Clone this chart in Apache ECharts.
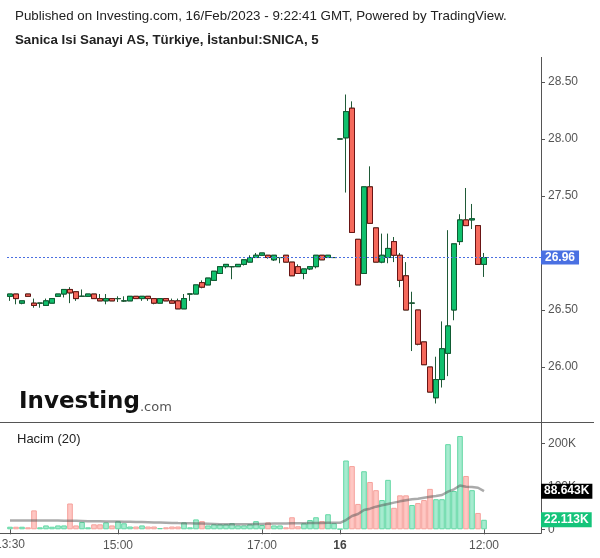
<!DOCTYPE html>
<html><head><meta charset="utf-8">
<script src="https://cdn.jsdelivr.net/npm/echarts@6/dist/echarts.min.js"></script>
<style>html,body{margin:0;padding:0;background:#fff}#c{width:600px;height:558px}</style>
</head><body><div id="c"></div>
<script>
// ---- time slots (5-minute bars) ----
function slots(day, start, end) {
  const out = [];
  let [h, m] = start.split(':').map(Number);
  const [eh, em] = end.split(':').map(Number);
  while (h * 60 + m <= eh * 60 + em) {
    out.push(day + ' ' + (h < 10 ? '0' : '') + h + ':' + (m < 10 ? '0' : '') + m);
    m += 5; if (m >= 60) { m -= 60; h++; }
  }
  return out;
}
const categories = slots('15', '13:30', '18:00').concat(slots('16', '10:00', '12:45'));
const tickLabels = { '15 13:30': '13:30', '15 15:00': '15:00', '15 17:00': '17:00', '16 10:00': '16', '16 12:00': '12:00' };
const edgeTick = '15 13:30'; // drawn separately so it can be clipped by the page edge

// ---- price data ----
const opens = [26.62,26.64,26.56,26.64,26.56,26.56,26.54,26.56,26.62,26.64,
  26.68,26.66,26.62,26.62,26.64,26.60,26.58,26.60,26.60,26.58,
  26.58,26.62,26.60,26.62,26.60,26.56,26.60,26.58,26.58,26.51,
  26.64,26.64,26.74,26.72,26.76,26.82,26.88,26.88,26.88,26.90,
  26.92,26.96,26.98,26.98,26.94,26.96,26.98,26.92,26.88,26.82,
  26.86,26.88,26.98,26.96,26.96,
  28.00,28.01,28.27,27.12,26.82,27.58,27.22,26.92,26.96,27.10,
  26.98,26.80,26.56,26.50,26.22,26.00,25.73,25.89,26.12,26.50,
  27.10,27.29,27.29,27.24,26.90];
const closes = [26.64,26.60,26.58,26.62,26.54,26.56,26.58,26.60,26.64,26.68,
  26.65,26.60,26.62,26.64,26.60,26.58,26.60,26.58,26.60,26.58,
  26.62,26.60,26.62,26.60,26.56,26.60,26.58,26.56,26.51,26.60,
  26.64,26.72,26.70,26.78,26.84,26.88,26.90,26.88,26.90,26.94,
  26.96,26.98,27.00,26.96,26.98,26.96,26.92,26.80,26.82,26.86,
  26.88,26.98,26.94,26.98,26.96,
  28.00,28.24,27.18,26.72,27.58,27.26,26.92,26.98,27.04,26.98,
  26.76,26.50,26.56,26.20,26.02,25.78,25.89,26.16,26.36,27.08,
  27.29,27.24,27.30,26.90,26.96];
const lows = [26.58,26.55,26.55,26.62,26.52,26.52,26.54,26.56,26.62,26.61,
  26.56,26.58,26.62,26.62,26.60,26.58,26.55,26.58,26.57,26.57,
  26.58,26.60,26.58,26.58,26.55,26.56,26.58,26.56,26.51,26.51,
  26.58,26.64,26.69,26.72,26.76,26.82,26.865,26.77,26.88,26.89,
  26.92,26.96,26.98,26.95,26.93,26.91,26.92,26.80,26.82,26.77,
  26.85,26.865,26.94,26.96,26.96,
  28.00,27.53,27.18,26.72,26.82,27.26,26.92,26.91,26.91,26.92,
  26.70,26.50,26.14,26.19,26.02,25.78,25.68,25.82,25.92,26.41,
  27.07,27.24,27.21,26.90,26.79];
const highs = [26.64,26.64,26.58,26.64,26.60,26.56,26.60,26.60,26.64,26.68,
  26.70,26.66,26.68,26.64,26.64,26.64,26.64,26.60,26.62,26.62,
  26.62,26.62,26.62,26.62,26.60,26.60,26.60,26.60,26.60,26.64,
  26.64,26.72,26.76,26.78,26.84,26.88,26.90,26.88,26.90,26.94,
  26.98,27.00,27.00,26.98,26.98,26.96,26.98,26.92,26.90,26.86,
  26.88,26.98,26.98,26.98,26.96,
  28.00,28.39,28.33,27.12,27.58,27.76,27.22,27.17,27.17,27.14,
  27.00,26.92,26.66,26.50,26.22,26.00,26.09,26.40,27.20,27.08,
  27.34,27.57,27.43,27.24,27.00];
const lastPrice = 26.96;

// ---- volume (thousands) ----
const volumes = [6,6,6,4.6,44,4.6,9,6,9,9,
  60,9,17,4.6,11.6,11.6,16,9,18.6,14,
  6.5,6.5,9,6.5,6.5,3,4.6,6.5,6.5,16,
  4.6,23,19,9,11.6,11.6,11.6,14,9,9,
  11.6,19,10,16,9,9,4.6,28,7,14,
  21.6,28,19,35,14,
  1,160,147,59,135,110,91,68,115,50,
  79,79,56.5,61,68,94,70,70,198,89,
  217,124,91,38,22.113];
const volMA = [20.5,20.5,20.4,20.3,20.4,20.4,20.3,20.3,20.2,20.0,
  19.8,19.6,19.4,19.0,18.8,18.6,18.4,18.2,18.0,17.8,
  17.6,17.2,16.8,16.4,16.0,15.6,15.2,14.8,14.4,14.2,
  14.0,13.6,13.2,12.8,12.4,12.0,11.8,11.6,11.6,11.6,
  11.8,12.2,12.6,13.0,13.2,13.4,13.6,13.8,14.0,14.2,
  14.4,14.6,14.8,15.0,15.0,
  15.0,21.6,31,35.6,45,48,52.6,55.8,59,62,
  65,67.4,69.8,71,73.5,75.8,77.4,79.8,87.5,93,
  102,99,98.4,96.7,88.643];
const lastVolume = 22.113;
const lastVolMA = 88.643;

// ---- styles ----
const UP = '#10c06d', DOWN = '#f5695c', UP_B = '#0f5c33', DOWN_B = '#6b1414', WICK = '#1f5a37';
const VUP = '#a6ebcf', VUP_B = '#62d8a4', VDN = '#fec7c3', VDN_B = '#f6a19b';
const AX = '#555';
const FONT = '"Liberation Sans", Arial, sans-serif';

const wickData = opens.map((o, i) => [o, closes[i], lows[i], highs[i]]);
const bodyData = opens.map((o, i) => [o, closes[i], Math.min(o, closes[i]), Math.max(o, closes[i])]);
const volData = volumes.map((v, i) => {
  const up = closes[i] >= opens[i];
  return { value: v * 1000, itemStyle: { color: up ? VUP : VDN, borderColor: up ? VUP_B : VDN_B } };
});

const isTick = (idx, val) => tickLabels[val] !== undefined;
const isLabel = (idx, val) => tickLabels[val] !== undefined && val !== edgeTick;

const chart = echarts.init(document.getElementById('c'), null, { renderer: 'canvas' });
const staticGraphics = [
  { type: 'text', left: 15, top: 10, z: 10, style: { text: 'Published on Investing.com, 16/Feb/2023 - 9:22:41 GMT, Powered by TradingView.', font: '13.35px ' + FONT, fill: '#222' } },
  { type: 'text', left: 15, top: 34, z: 10, style: { text: 'Sanica Isi Sanayi AS, Türkiye, İstanbul:SNICA, 5', font: 'bold 13.3px ' + FONT, fill: '#222' } },
  { type: 'text', left: 17, top: 433, z: 10, style: { text: 'Hacim (20)', font: '13px ' + FONT, fill: '#222' } },
  { type: 'text', left: 19, top: 391, z: 10, style: {
    text: '{a|Investing}{b|.com}',
    rich: { a: { font: 'bold 23px "DejaVu Sans", sans-serif', fill: '#111', verticalAlign: 'bottom', lineHeight: 26 },
            b: { font: '13px "DejaVu Sans", sans-serif', fill: '#555', verticalAlign: 'bottom', lineHeight: 20 } } } },
  { type: 'line', z: 10, shape: { x1: 541.5, y1: 57, x2: 541.5, y2: 533.5 }, style: { stroke: '#555', lineWidth: 1 } },
  { type: 'line', z: 10, shape: { x1: 0, y1: 422.5, x2: 594, y2: 422.5 }, style: { stroke: '#555', lineWidth: 1 } },
  { type: 'line', z: 10, shape: { x1: 0, y1: 533.5, x2: 541.5, y2: 533.5 }, style: { stroke: '#555', lineWidth: 1 } }
];
chart.setOption({
  animation: false,
  backgroundColor: '#fff',
  textStyle: { fontFamily: FONT },
  grid: [
    { left: 7, right: 59, top: 57, height: 367 },
    { left: 7, right: 59, top: 423, height: 106.3 }
  ],
  xAxis: [
    { type: 'category', gridIndex: 0, data: categories, boundaryGap: true, show: false },
    { type: 'category', gridIndex: 1, data: categories, boundaryGap: true, offset: 4,
      axisLine: { show: false },
      axisTick: { show: true, alignWithLabel: true, interval: isTick, length: 5, lineStyle: { color: AX } },
      axisLabel: { interval: isLabel, color: AX, fontSize: 12, margin: 6, fontFamily: FONT, hideOverlap: false,
        formatter: v => (tickLabels[v] && v !== edgeTick) ? (tickLabels[v] === '16' ? '{b|16}' : tickLabels[v]) : '',
        rich: { b: { fontWeight: 'bold', fontSize: 12, color: '#444', fontFamily: FONT } } },
      splitLine: { show: false } }
  ],
  yAxis: [
    { type: 'value', gridIndex: 0, position: 'right', min: 25.5, max: 28.719, interval: 0.5,
      axisLine: { show: false },
      axisTick: { show: true, length: 4, lineStyle: { color: AX } },
      axisLabel: { color: AX, fontSize: 12, margin: 7, showMaxLabel: false, showMinLabel: false,
        formatter: v => Math.abs(v - lastPrice) < 0.1 ? '' : v.toFixed(2), fontFamily: FONT },
      splitLine: { show: false } },
    { type: 'value', gridIndex: 1, position: 'right', min: 0, max: 247200, interval: 100000,
      axisLine: { show: false },
      axisTick: { show: true, length: 4, lineStyle: { color: AX } },
      axisLabel: { color: AX, fontSize: 12, margin: 7, showMaxLabel: false, fontFamily: FONT,
        formatter: v => v === 0 ? '0' : (v / 1000) + 'K' },
      splitLine: { show: false } }
  ],
  series: [
    { type: 'candlestick', xAxisIndex: 0, yAxisIndex: 0, data: wickData, barWidth: 5,
      itemStyle: { color: WICK, color0: WICK, borderColor: WICK, borderColor0: WICK, borderColorDoji: WICK, borderWidth: 1 },
      silent: true, z: 2 },
    { type: 'candlestick', xAxisIndex: 0, yAxisIndex: 0, data: bodyData, barWidth: 5,
      itemStyle: { color: UP, color0: DOWN, borderColor: UP_B, borderColor0: DOWN_B, borderColorDoji: WICK, borderWidth: 1 },
      silent: true, z: 3,
      markLine: { silent: true, symbol: 'none', animation: false, z: 20,
        lineStyle: { color: '#4a6fe0', type: [2, 2], width: 1 },
        label: { show: true, position: 'end', distance: 0, formatter: lastPrice.toFixed(2),
          backgroundColor: '#4a70e2', color: '#fff', fontWeight: 'bold', fontSize: 12, fontFamily: FONT,
          padding: [1, 4, 1, 4], lineHeight: 12 },
        data: [{ yAxis: lastPrice }] } },
    { type: 'bar', xAxisIndex: 1, yAxisIndex: 1, data: volData, barWidth: 5.6,
      itemStyle: { borderWidth: 1 }, silent: true, z: 2,
      markLine: { silent: true, symbol: 'none', animation: false, z: 20,
        lineStyle: { color: 'rgba(0,0,0,0)', width: 0 },
        label: { show: true, position: 'end', distance: 0, formatter: lastVolume.toFixed(3) + 'K',
          backgroundColor: '#14c47a', color: '#fff', fontWeight: 'bold', fontSize: 12, fontFamily: FONT,
          padding: [2, 3, 1, 3], lineHeight: 12 },
        data: [{ yAxis: lastVolume * 1000 }] } },
    { type: 'line', xAxisIndex: 1, yAxisIndex: 1, data: volMA.map(v => v * 1000), symbol: 'none',
      lineStyle: { color: 'rgba(85,85,85,0.5)', width: 2.5 }, silent: true, z: 4,
      markLine: { silent: true, symbol: 'none', animation: false, z: 21,
        lineStyle: { color: 'rgba(0,0,0,0)', width: 0 },
        label: { show: true, position: 'end', distance: 0, formatter: lastVolMA.toFixed(3) + 'K',
          backgroundColor: '#000', color: '#fff', fontWeight: 'bold', fontSize: 12, fontFamily: FONT,
          padding: [2, 3, 1, 3], lineHeight: 12 },
        data: [{ yAxis: lastVolMA * 1000 }] } }
  ],
  graphic: staticGraphics
});
// first time label sits on the page edge; place it at its tick so the edge clips it like the original
const edgeX = chart.convertToPixel({ xAxisIndex: 1 }, edgeTick);
chart.setOption({ graphic: staticGraphics.concat([
  { type: 'text', x: edgeX, y: 539, z: 10, style: { text: tickLabels[edgeTick], font: '12px ' + FONT, fill: AX, align: 'center', verticalAlign: 'top' } }
]) });
</script></body></html>
